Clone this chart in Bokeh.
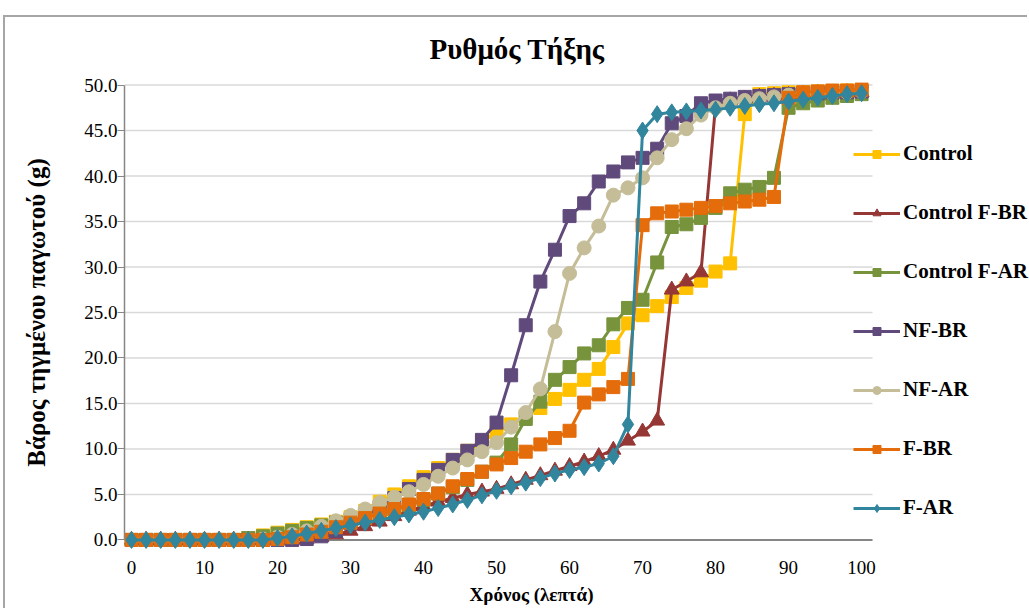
from bokeh.plotting import figure
from bokeh.models import Range1d, FixedTicker, Legend, LegendItem, Title, NumeralTickFormatter
from bokeh.embed import file_html
from bokeh.resources import INLINE

# ---- data (time in minutes, melted mass in g) ----
time_min = list(range(0, 101, 2))

control = [0, 0, 0, 0, 0, 0, 0, 0, 0.2, 0.5, 0.8, 1.1, 1.4, 1.7, 2.0, 2.5, 3.2, 4.2, 5.0, 5.9,
           6.9, 7.9, 8.8, 9.8, 10.8, 11.8, 12.7, 13.6, 14.5, 15.5, 16.5, 17.6, 18.8, 21.2, 23.8, 24.7,
           25.7, 26.7, 27.7, 28.5, 29.5, 30.4, 46.8, 49.0, 49.1, 49.2, 49.2, 49.3, 49.3, 49.4, 49.4]
control_fbr = [0, 0, 0, 0, 0, 0, 0, 0, 0, 0, 0, 0, 0.1, 0.3, 0.6, 1.0, 1.5, 2.0, 2.6, 3.2,
               3.7, 4.2, 4.6, 5.0, 5.3, 5.6, 6.1, 6.6, 7.1, 7.6, 8.1, 8.6, 9.2, 9.9, 10.9, 11.9,
               13.1, 27.5, 28.4, 29.4, 47.8, 48.3, 48.5, 48.7, 48.8, 48.9, 49.0, 49.1, 49.1, 49.2, 49.2]
control_far = [0, 0, 0, 0, 0, 0, 0, 0, 0.2, 0.4, 0.7, 1.0, 1.3, 1.6, 1.9, 2.2, 2.5, 2.9, 3.3, 3.8,
               4.4, 5.1, 5.8, 6.6, 7.5, 8.5, 10.5, 13.3, 15.2, 17.6, 19.0, 20.5, 21.4, 23.7, 25.5, 26.4,
               30.5, 34.4, 34.7, 35.4, 36.5, 38.1, 38.5, 38.8, 39.8, 47.5, 48.0, 48.3, 48.6, 48.8, 49.0]
nf_br = [0, 0, 0, 0, 0, 0, 0, 0, 0, 0, 0, 0, 0.1, 0.4, 1.0, 1.8, 2.7, 3.6, 4.6, 5.6,
         6.6, 7.7, 8.8, 9.8, 11.0, 12.9, 18.1, 23.6, 28.4, 31.9, 35.6, 37.0, 39.4, 40.5, 41.5, 42.0,
         43.0, 45.8, 46.6, 48.0, 48.3, 48.5, 48.7, 48.8, 48.9, 49.0, 49.1, 49.1, 49.2, 49.2, 49.3]
nf_ar = [0, 0, 0, 0, 0, 0, 0, 0, 0, 0.1, 0.3, 0.6, 1.0, 1.5, 2.1, 2.7, 3.4, 4.1, 4.7, 5.3,
         6.1, 7.0, 7.9, 8.8, 9.7, 10.7, 12.4, 14.0, 16.6, 22.9, 29.3, 32.1, 34.5, 37.9, 38.7, 39.8,
         42.0, 44.0, 45.2, 46.7, 47.5, 48.0, 48.3, 48.5, 48.7, 48.9, 49.0, 49.1, 49.1, 49.2, 49.3]
f_br = [0, 0, 0, 0, 0, 0, 0, 0, 0, 0, 0.1, 0.3, 0.6, 0.9, 1.4, 1.9, 2.4, 2.9, 3.4, 3.9,
        4.5, 5.1, 5.9, 6.7, 7.5, 8.3, 9.0, 9.7, 10.5, 11.2, 12.0, 15.1, 16.0, 16.8, 17.7, 34.6,
        35.9, 36.1, 36.3, 36.5, 36.7, 37.0, 37.2, 37.4, 37.7, 48.6, 49.2, 49.3, 49.4, 49.4, 49.5]
f_ar = [0, 0, 0, 0, 0, 0, 0, 0, 0, 0, 0.2, 0.4, 0.7, 1.0, 1.3, 1.6, 1.9, 2.2, 2.5, 2.8,
        3.1, 3.5, 3.9, 4.4, 4.9, 5.4, 5.9, 6.3, 6.8, 7.3, 7.7, 8.0, 8.4, 9.2, 12.7, 45.0,
        46.8, 47.0, 47.1, 47.2, 47.3, 47.5, 47.7, 47.9, 48.0, 48.2, 48.4, 48.6, 48.8, 49.0, 49.1]

series_names = ["Control", "Control F-BR", "Control F-AR", "NF-BR", "NF-AR", "F-BR", "F-AR"]
series_values = [control, control_fbr, control_far, nf_br, nf_ar, f_br, f_ar]
series_colors = ["#FFC000", "#953735", "#77933C", "#604A7B", "#C4BD97", "#E46C0A", "#31859C"]
series_markers = ["square", "triangle", "square", "square", "circle", "square", "diamond"]
series_sizes = [13, 15, 13, 13, 14, 13, 17]

x_ticks = list(range(0, 101, 10))
y_ticks = [0, 5, 10, 15, 20, 25, 30, 35, 40, 45, 50]
x_pad = 0.96  # axis starts a little left of 0

title_text = "Ρυθμός Τήξης"
x_title = "Χρόνος (λεπτά)"
y_title = "Βάρος τηγμένου παγωτού (g)"

FONT = "Liberation Serif"

# canvas 1024x593 placed at (5,17) in the page (margin + chart border)
p = figure(width=1024, height=593, output_backend="svg", toolbar_location=None,
           x_range=Range1d(-x_pad, 123.0), y_range=Range1d(-1.6, 51.6),
           min_border_left=119, min_border_right=0, min_border_top=53, min_border_bottom=55)
p.styles = {"margin-top": "15px", "margin-left": "3px",
            "border-top": "2px solid #a6a6a6", "border-left": "2px solid #a6a6a6"}
p.outline_line_color = None
p.background_fill_color = "white"
p.border_fill_color = "white"

# title above the plot, positioned over the chart area
p.add_layout(Title(text=title_text, align="left", offset=305, standoff=12,
                   text_font=FONT, text_font_style="bold", text_font_size="29px",
                   text_color="black"), "above")

# horizontal gridlines limited to the plot area, drawn as segments
p.xgrid.grid_line_color = None
p.ygrid.grid_line_color = None
grid_y = y_ticks[1:]
grid_r = p.segment(x0=[-x_pad] * len(grid_y), y0=grid_y, x1=[101.5] * len(grid_y), y1=grid_y,
                   line_color="#d9d9d9", line_width=1.5)
grid_r.level = "underlay"
axis_r = p.segment(x0=[-x_pad], y0=[0], x1=[101.5], y1=[0], line_color="#868686", line_width=2)
axis_r.level = "underlay"

# x axis: labels only
p.xaxis.ticker = FixedTicker(ticks=x_ticks)
p.xaxis.axis_line_color = None
p.xaxis.major_tick_line_color = None
p.xaxis.minor_tick_line_color = None
p.xaxis.major_label_standoff = 0
p.xaxis.major_label_text_font = FONT
p.xaxis.major_label_text_font_size = "19px"
p.xaxis.major_label_text_color = "black"

# y axis
p.yaxis.ticker = FixedTicker(ticks=y_ticks)
p.yaxis.bounds = (0, 50)
p.yaxis.formatter = NumeralTickFormatter(format="0.0")
p.yaxis.axis_line_color = "#868686"
p.yaxis.axis_line_width = 1.5
p.yaxis.major_tick_line_color = "#868686"
p.yaxis.major_tick_out = 7
p.yaxis.major_tick_in = 0
p.yaxis.minor_tick_line_color = None
p.yaxis.major_label_standoff = 0
p.yaxis.major_label_text_font = FONT
p.yaxis.major_label_text_font_size = "19px"
p.yaxis.major_label_text_color = "black"
p.yaxis.axis_label = y_title
p.yaxis.axis_label_text_font = FONT
p.yaxis.axis_label_text_font_style = "bold"
p.yaxis.axis_label_text_font_size = "25px"
p.yaxis.axis_label_text_color = "black"
p.yaxis.axis_label_standoff = 31

items = []
for name, vals, col, mk, sz in zip(series_names, series_values, series_colors, series_markers, series_sizes):
    ln = p.line(time_min, vals, line_color=col, line_width=3)
    sc = p.scatter(time_min, vals, marker=mk, size=sz, fill_color=col, line_color=col)
    items.append(LegendItem(label=name, renderers=[ln, sc]))

legend = Legend(items=items, location=(729, 34), padding=0, margin=0, spacing=34,
                glyph_width=47, glyph_height=20, label_height=20, label_standoff=3,
                label_text_font=FONT, label_text_font_style="bold", label_text_font_size="21px",
                label_text_color="black", background_fill_alpha=0, border_line_alpha=0)
p.add_layout(legend)

p.add_layout(Title(text=x_title, align="left", offset=345, standoff=11,
                   text_font=FONT, text_font_style="bold", text_font_size="19px",
                   text_color="black"), "below")

open("out.html", "w").write(file_html(p, INLINE))
